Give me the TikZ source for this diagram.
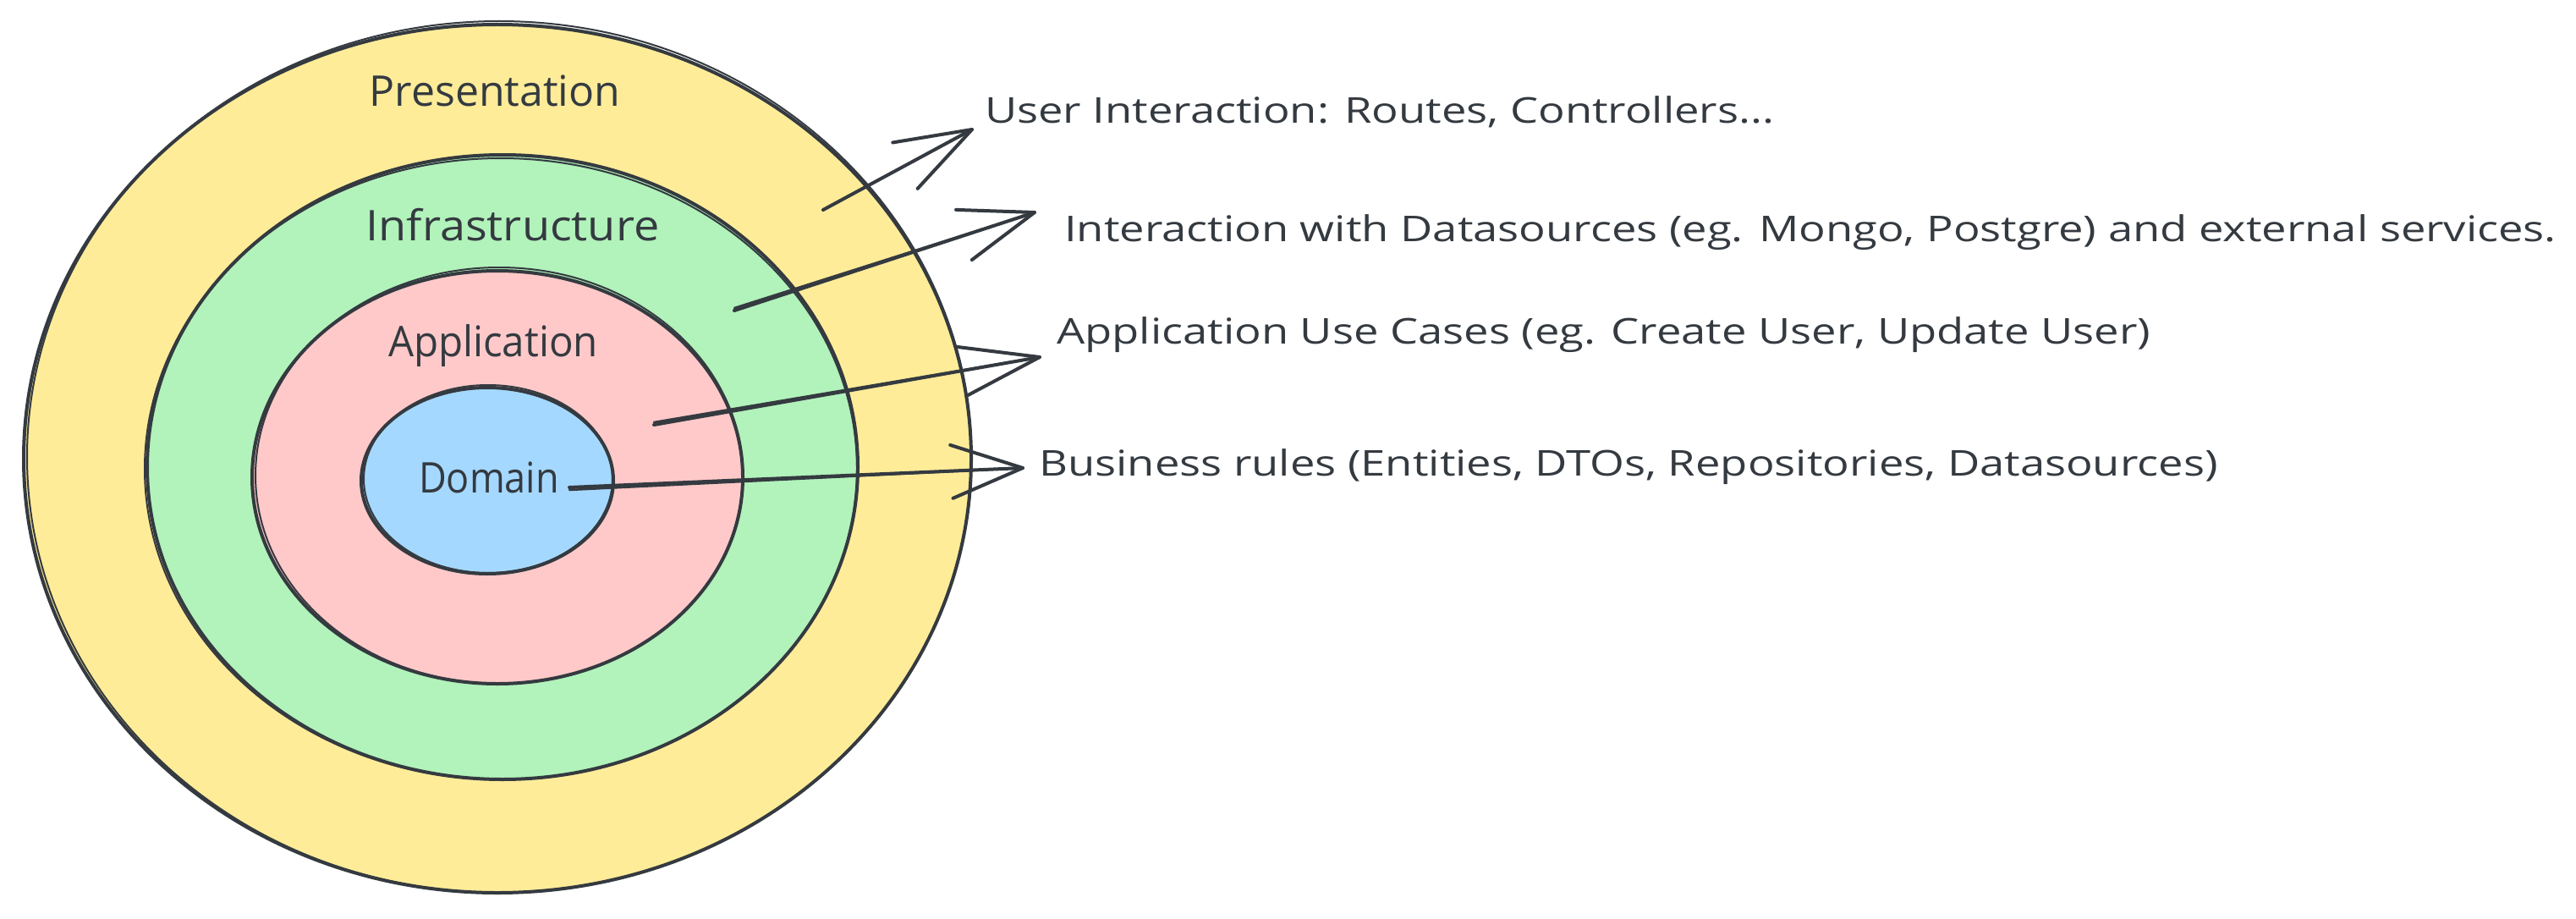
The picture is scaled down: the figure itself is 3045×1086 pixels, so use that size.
\documentclass[tikz,border=0pt]{standalone}
\usepackage{fontspec}
\setmainfont{Open Sans}
\newfontfamily\outfont[FakeStretch=1.25]{Open Sans}
\usetikzlibrary{calc}
\definecolor{strk}{HTML}{343A40}
\definecolor{cyel}{HTML}{FFEC99}
\definecolor{cgrn}{HTML}{B2F2BB}
\definecolor{cpnk}{HTML}{FFC9C9}
\definecolor{cblu}{HTML}{A5D8FF}
\tikzset{
  ring/.style={draw=strk, line width=4pt},
  ringtwo/.style={draw=strk, line width=2pt},
  ln/.style={draw=strk, line width=4pt, line cap=round, line join=round},
  lntwo/.style={draw=strk, line width=2.5pt, line cap=round},
  inlbl/.style={font=\fontsize{50}{60}\selectfont, text=strk, anchor=base, inner sep=0pt},
  outlbl/.style={font=\outfont\fontsize{42}{50}\selectfont, text=strk, anchor=base west, inner sep=0pt},
}
\begin{document}
\begin{tikzpicture}[x=1pt,y=-1pt]
\useasboundingbox[fill=white] (0,0) rectangle (3045,1086);
% rings
\fill[cyel] (588,542) ellipse [x radius=560pt, y radius=513pt];
\draw[ring] (588,542) ellipse [x radius=560pt, y radius=513pt];
\draw[ringtwo] (590,540) ellipse [x radius=558pt, y radius=515pt];
\fill[cgrn] (594,552) ellipse [x radius=420pt, y radius=369pt];
\draw[ring] (594,552) ellipse [x radius=420pt, y radius=369pt];
\draw[ringtwo] (592,554) ellipse [x radius=421pt, y radius=367pt];
\fill[cpnk] (588,564) ellipse [x radius=290pt, y radius=244pt];
\draw[ring] (588,564) ellipse [x radius=290pt, y radius=244pt];
\draw[ringtwo] (590,562) ellipse [x radius=288pt, y radius=246pt];
\fill[cblu] (576,568) ellipse [x radius=149pt, y radius=110pt];
\draw[ring] (576,568) ellipse [x radius=149pt, y radius=110pt];
\draw[ringtwo] (577,566) ellipse [x radius=147pt, y radius=111pt];
% inner labels
\node[inlbl] (pres) at (585,126) {Presentation};
\node[inlbl, xscale=1.08] (infra) at (606,284) {Infrastructure};
\node[inlbl, xscale=0.95] (app) at (583,421) {Application};
\node[inlbl, xscale=0.9] (dom) at (578,582) {Domain};
% outer labels
\node[outlbl] (l1) at (1164,146) {User Interaction: Routes, Controllers...};
\node[outlbl] (l2) at (1258,285) {Interaction with Datasources (eg. Mongo, Postgre) and external services.};
\node[outlbl] (l3) at (1249,406) {Application Use Cases (eg. Create User, Update User)};
\node[outlbl] (l4) at (1228,562) {Business rules (Entities, DTOs, Repositories, Datasources)};
% arrow coordinates
\coordinate (s1) at (973,248);  \coordinate (t1) at (1149,153);
\coordinate (s2) at (868,367);  \coordinate (t2) at (1223,251);
\coordinate (s3) at (773,502);  \coordinate (t3) at (1229,422);
\coordinate (s4) at (673,576);  \coordinate (t4) at (1209,553);
% arrows
\draw[ln] (s1) -- (t1);
\draw[ln] ($(t1)!95pt!19:(s1)$) -- (t1) -- ($(t1)!95pt!-19:(s1)$);
\draw[ln] (s2) -- (t2);
\draw[lntwo] ([yshift=3pt]s2) -- (t2);
\draw[ln] ($(t2)!93pt!19:(s2)$) -- (t2) -- ($(t2)!93pt!-20:(s2)$);
\draw[ln] (s3) -- (t3);
\draw[lntwo] ([yshift=3pt]s3) -- (t3);
\draw[ln] ($(t3)!98pt!18:(s3)$) -- (t3) -- ($(t3)!98pt!-17:(s3)$);
\draw[ln] (s4) -- (t4);
\draw[lntwo] ([yshift=-3pt]s4) -- (t4);
\draw[ln] ($(t4)!90pt!21:(s4)$) -- (t4) -- ($(t4)!90pt!-20:(s4)$);
\end{tikzpicture}
\end{document}
